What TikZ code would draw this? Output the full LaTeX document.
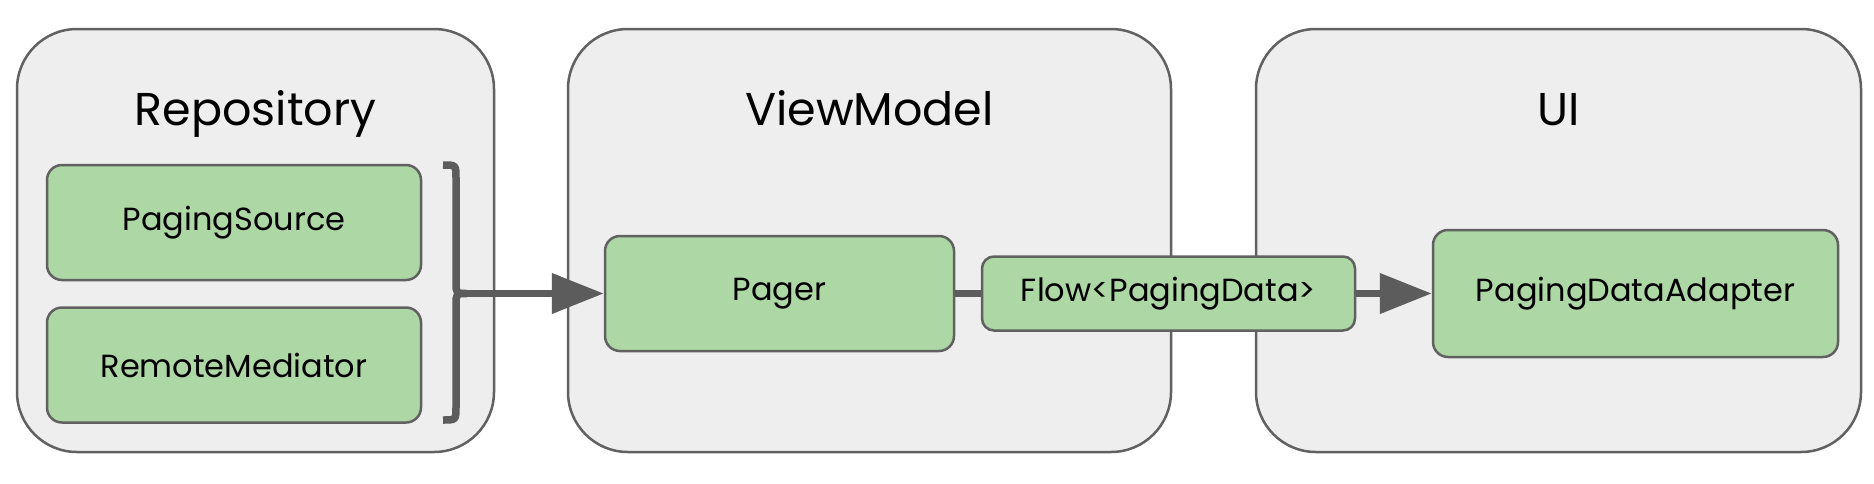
\documentclass[tikz,border=0pt]{standalone}
\usepackage{fontspec}
\setmainfont{Poppins}
\usetikzlibrary{positioning}
\usetikzlibrary{arrows.meta}
\definecolor{layerfill}{HTML}{EEEEEE}
\definecolor{edgegray}{HTML}{616161}
\definecolor{linkgray}{HTML}{5C5C5C}
\definecolor{pagegreen}{HTML}{ADD7A4}

\begin{document}
\begin{tikzpicture}[x=1pt,y=-1pt,
	layer/.style={draw=edgegray,fill=layerfill,line width=2.5pt,rounded corners=60pt,minimum height=423pt},
	title/.style={anchor=base,font=\fontsize{46}{50}\selectfont},
	part/.style={draw=edgegray,fill=pagegreen,line width=2.5pt,rounded corners=15pt,font=\fontsize{32}{36}\selectfont},
	link/.style={draw=linkgray,line width=7.5pt},
	flowarrow/.style={link,-{Triangle[length=52pt,width=39pt]}}]
	\useasboundingbox (0,0) rectangle (1874,483);
	\node [layer,minimum width=477pt] (repo) at (255.5,240.5) {};
	\node [layer,minimum width=603pt] (viewmodel) at (869.5,240.5) {};
	\node [layer,minimum width=605pt] (ui) at (1558.5,240.5) {};
	\node [title] (repotitle) at (255.5,125) {Repository};
	\node [title] (vmtitle) at (869.5,125) {ViewModel};
	\node [title] (uititle) at (1558.5,125) {UI};
	\node [part,minimum width=374pt,minimum height=115pt] (source) at (234,222.5) {PagingSource};
	\node [part,minimum width=374pt,minimum height=115pt,below=25pt of source] (mediator) {RemoteMediator};
	\node [part,minimum width=349pt,minimum height=115pt] (pager) at (779.5,293.5) {Pager};
	\node [part,minimum width=373pt,minimum height=74pt,rounded corners=12pt] (flow) at (1168.5,293.5) {Flow<PagingData>};
	\node [part,minimum width=405pt,minimum height=127pt] (adapter) at (1635.5,293.5) {PagingDataAdapter};
	\coordinate (brace) at (467,293.5);
	\draw [link] (443,165) .. controls (456,165) .. (456,178) -- (456,282)
		.. controls (456,293.5) .. (brace) .. controls (456,293.5) .. (456,305) -- (456,407)
		.. controls (456,420) .. (443,420);
	\draw [flowarrow] (brace) -- (pager.west);
	\draw [link] (pager.east) -- (flow.west);
	\draw [flowarrow] (flow.east) -- (adapter.west);
\end{tikzpicture}
\end{document}
